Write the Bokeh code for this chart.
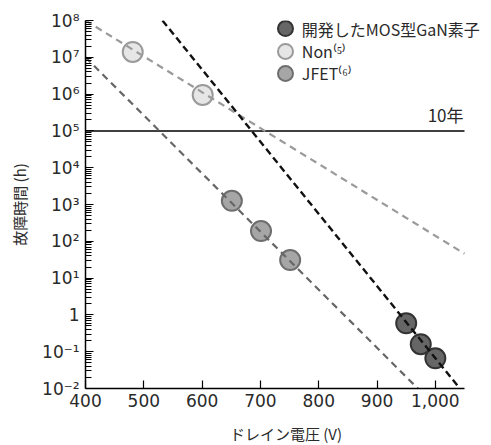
from bokeh.plotting import figure
from bokeh.models import FixedTicker, Label, ColumnDataSource
from bokeh.embed import file_html
from bokeh.resources import INLINE

# ---- data ----
mos_v = [950, 975, 1000]
mos_h = [0.59, 0.16, 0.066]
non_v = [481, 601]
non_h = [1.4e7, 9.5e5]
jfet_v = [651, 701, 751]
jfet_h = [1.26e3, 1.9e2, 31]

mos_line_v = [532, 1042]
mos_line_h = [1e8, 1e-2]
non_line_v = [400, 1050]
non_line_h = [1e8, 46]
jfet_line_v = [400, 970]
jfet_line_h = [1e7, 1e-2]

ten_year_v = [400, 1050]
ten_year_h = [1e5, 1e5]

x_ticks = [400, 500, 600, 700, 800, 900, 1000]
x_tick_labels = ["400", "500", "600", "700", "800", "900", "1,000"]
y_ticks = [1e-2, 1e-1, 1, 1e1, 1e2, 1e3, 1e4, 1e5, 1e6, 1e7, 1e8]
y_tick_labels = ["10⁻²", "10⁻¹", "1", "10¹", "10²", "10³", "10⁴", "10⁵", "10⁶", "10⁷", "10⁸"]

legend_names = ["開発したMOS型GaN素子", "Non⁽⁵⁾", "JFET⁽⁶⁾"]
legend_fill = ["#666666", "#e6e6e6", "#a6a6a6"]
legend_line = ["#333333", "#9a9a9a", "#6e6e6e"]
legend_v = 743
legend_text_v = 771
legend_h = [10 ** 7.78, 10 ** 7.16, 10 ** 6.56]

JP = "Noto Sans CJK JP"
NUM = "DejaVu Sans"
TXT = "#2a2a2a"

FRAME_W = 401
X_END = 400 + FRAME_W * 650 / 379.0   # axis itself stops at 1050

p = figure(frame_width=FRAME_W, frame_height=368, output_backend="svg", toolbar_location=None,
           x_range=(400, X_END), y_range=(1e-2, 1e8), y_axis_type="log",
           min_border_left=85, min_border_right=3, min_border_top=20, min_border_bottom=57)
p.outline_line_color = None
p.xgrid.visible = False
p.ygrid.visible = False
p.background_fill_color = "white"
p.border_fill_color = "white"

# axes
p.xaxis.ticker = FixedTicker(ticks=x_ticks)
p.xaxis.bounds = (400, 1050)
p.xaxis.major_label_overrides = {t: l for t, l in zip(x_ticks, x_tick_labels)}
minor = [m * 10.0 ** k for k in range(-2, 8) for m in range(2, 10)]
p.yaxis.ticker = FixedTicker(ticks=y_ticks, minor_ticks=minor)
p.yaxis.major_label_overrides = {t: l for t, l in zip(y_ticks, y_tick_labels)}

for ax in (p.xaxis, p.yaxis):
    ax.axis_line_color = "black"
    ax.axis_line_width = 1.5
    ax.major_tick_in = 8
    ax.major_tick_out = 0
    ax.major_tick_line_color = "black"
    ax.major_tick_line_width = 1.2
    ax.major_label_text_font = NUM
    ax.major_label_text_font_size = "17px"
    ax.major_label_text_color = TXT
    ax.axis_label_text_font = JP
    ax.axis_label_text_font_size = "15px"
    ax.axis_label_text_font_style = "normal"
    ax.axis_label_text_color = TXT

p.xaxis.minor_tick_line_color = None
p.yaxis.minor_tick_in = 6
p.yaxis.minor_tick_out = 0
p.yaxis.minor_tick_line_color = "black"
p.yaxis.minor_tick_line_width = 1
p.xaxis.major_label_standoff = 5
p.yaxis.major_label_standoff = 6
p.xaxis.axis_label = "ドレイン電圧 (V)"
p.yaxis.axis_label = "故障時間 (h)"
p.xaxis.axis_label_standoff = 13
p.yaxis.axis_label_standoff = 9

# 10-year line
p.line(ten_year_v, ten_year_h, line_color="black", line_width=1.5)
p.add_layout(Label(x=1050, y=1e5, text="10年", text_align="right", text_baseline="bottom",
                   x_offset=-1, y_offset=4, text_font=JP, text_font_size="17px", text_color=TXT))

# points
p.scatter(non_v, non_h, size=20, fill_color=legend_fill[1], line_color=legend_line[1], line_width=2)
p.scatter(jfet_v, jfet_h, size=20, fill_color=legend_fill[2], line_color=legend_line[2], line_width=2)
p.scatter(mos_v, mos_h, size=20, fill_color=legend_fill[0], line_color=legend_line[0], line_width=2)

# trend lines
p.line(non_line_v, non_line_h, line_color="#9a9a9a", line_width=2.2, line_dash="7 5")
p.line(jfet_line_v, jfet_line_h, line_color="#666666", line_width=2.2, line_dash="7 5")
p.line(mos_line_v, mos_line_h, line_color="#111111", line_width=2.4, line_dash="7 4")

# legend
lsrc = ColumnDataSource(dict(v=[legend_v] * 3, h=legend_h, f=legend_fill, l=legend_line))
p.scatter("v", "h", source=lsrc, size=15, fill_color="f", line_color="l", line_width=2)
for name, hh in zip(legend_names, legend_h):
    p.add_layout(Label(x=legend_text_v, y=hh, text=name, text_baseline="middle",
                       text_font=JP, text_font_size="16px", text_color=TXT))

open("out.html", "w").write(file_html(p, INLINE))
